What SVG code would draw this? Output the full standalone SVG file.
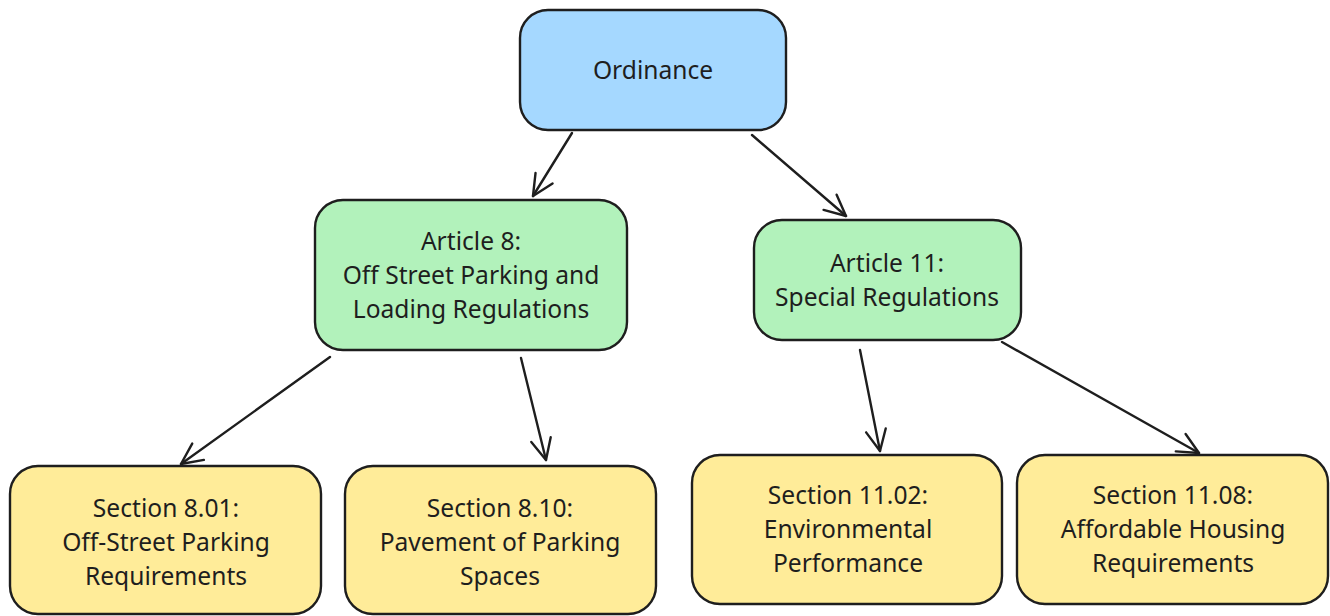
<svg xmlns="http://www.w3.org/2000/svg" width="1330" height="616" viewBox="0 0 1330 616">
<style>
.n{stroke:#1e1e1e;stroke-width:2.4}
.b{fill:#a5d8ff}.g{fill:#b2f2bb}.y{fill:#ffec99}
text{font-family:"Noto Sans","Open Sans",sans-serif;font-size:24.6px;fill:#1e1e1e;text-anchor:middle;dominant-baseline:central}
.c path{fill:none;stroke:#1e1e1e;stroke-width:2.4;stroke-linecap:round}
</style>
<defs>
<marker id="ah" markerUnits="userSpaceOnUse" markerWidth="34" markerHeight="34" refX="24" refY="17" orient="auto" viewBox="0 0 34 34">
<path d="M3 7 L24 17 L3 27" fill="none" stroke="#1e1e1e" stroke-width="2.4" stroke-linecap="round" stroke-linejoin="round"/>
</marker>
</defs>
<g id="ordinance"><rect class="n b" x="520" y="10" width="266" height="120" rx="28"/><text x="653" y="69">Ordinance</text></g>
<g id="article8"><rect class="n g" x="315" y="200" width="312" height="150" rx="28"/><text x="471" y="240">Article 8:</text><text x="471" y="274">Off Street Parking and</text><text x="471" y="308">Loading Regulations</text></g>
<g id="article11"><rect class="n g" x="754" y="220" width="267" height="120" rx="28"/><text x="887" y="262">Article 11:</text><text x="887" y="296">Special Regulations</text></g>
<g id="s801"><rect class="n y" x="10" y="466" width="311" height="148" rx="28"/><text x="166" y="507">Section 8.01:</text><text x="166" y="541">Off-Street Parking</text><text x="166" y="575">Requirements</text></g>
<g id="s810"><rect class="n y" x="345" y="466" width="311" height="148" rx="28"/><text x="500" y="507">Section 8.10:</text><text x="500" y="541">Pavement of Parking</text><text x="500" y="575">Spaces</text></g>
<g id="s1102"><rect class="n y" x="692" y="455" width="310" height="149" rx="28"/><text x="848" y="494">Section 11.02:</text><text x="848" y="528">Environmental</text><text x="848" y="562">Performance</text></g>
<g id="s1108"><rect class="n y" x="1017" y="455" width="311" height="149" rx="28"/><text x="1173" y="494">Section 11.08:</text><text x="1173" y="528">Affordable Housing</text><text x="1173" y="562">Requirements</text></g>
<g class="c" id="connectors">
<path d="M572 133 L533 196" marker-end="url(#ah)"/>
<path d="M752 135 L846 216" marker-end="url(#ah)"/>
<path d="M330 357 L181 464" marker-end="url(#ah)"/>
<path d="M521 358 L546 460" marker-end="url(#ah)"/>
<path d="M860 350 L880 451" marker-end="url(#ah)"/>
<path d="M1002 342 L1199 453" marker-end="url(#ah)"/>
</g>
</svg>
